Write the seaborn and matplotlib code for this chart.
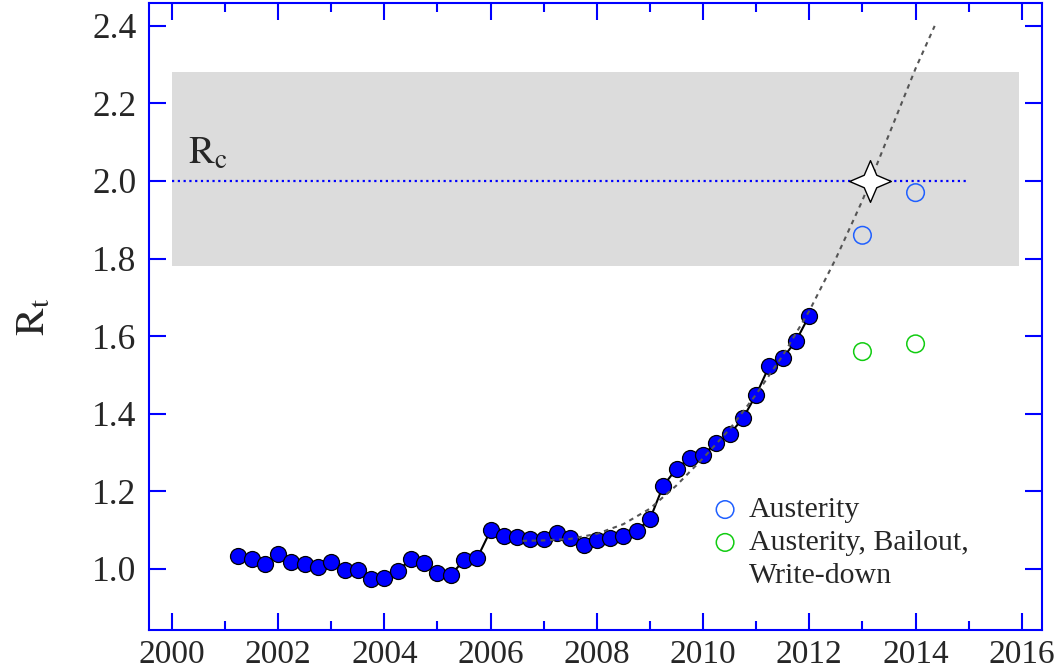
import matplotlib
matplotlib.use('Agg')

import numpy as np
import pandas as pd
import matplotlib.pyplot as plt
import seaborn as sns
from matplotlib.path import Path
from matplotlib.lines import Line2D
from matplotlib.ticker import MultipleLocator

# -----------------------------
# DATA
# -----------------------------
# quarterly R_t estimates, 2001.25 .. 2012.0
rt_values = [
    1.034, 1.025, 1.011, 1.037, 1.018, 1.011, 1.004, 1.017, 0.997, 0.997,
    0.973, 0.975, 0.993, 1.026, 1.016, 0.988, 0.984, 1.022, 1.028, 1.099,
    1.084, 1.083, 1.076, 1.076, 1.091, 1.078, 1.062, 1.074, 1.078, 1.084,
    1.098, 1.128, 1.214, 1.258, 1.285, 1.294, 1.324, 1.347, 1.388, 1.449,
    1.524, 1.543, 1.588, 1.653,
]
quarters = 2001.25 + 0.25 * np.arange(len(rt_values))

# fitted trend (dashed grey)
fit_years = [2006.6, 2007.0, 2007.5, 2008.0, 2008.5, 2009.0, 2009.5, 2010.0,
             2010.5, 2011.0, 2011.5, 2012.0, 2012.5, 2013.0, 2013.5, 2014.0, 2014.36]
fit_values = [1.072, 1.073, 1.077, 1.090, 1.115, 1.155, 1.215, 1.285,
              1.360, 1.450, 1.550, 1.665, 1.800, 1.950, 2.120, 2.290, 2.400]

# scenario projections
scen_years = [2013, 2014]
austerity = [1.86, 1.97]
austerity_bailout = [1.56, 1.58]

# critical value
r_crit = 2.0
r_crit_band = (1.78, 2.28)
t_crit = 2013.14

xticks = list(range(2000, 2017, 2))
yticks = [1.0, 1.2, 1.4, 1.6, 1.8, 2.0, 2.2, 2.4]

df = pd.DataFrame({"year": quarters, "Rt": rt_values})
fit_df = pd.DataFrame({"year": fit_years, "Rt": fit_values})

# -----------------------------
# STYLE
# -----------------------------
sns.set_style("ticks")
plt.rcParams['font.family'] = ['Liberation Serif', 'DejaVu Serif']
plt.rcParams['mathtext.fontset'] = 'stix'

blue = '#0000ff'
x0, x1 = 1999.57, 2016.38

fig = plt.figure(figsize=(10.6, 6.72), dpi=100)
ax = fig.add_axes([0.1406, 0.0625, 0.8424, 0.933])

# grey band around R_c
ax.axhspan(r_crit_band[0], r_crit_band[1], xmin=(2000 - x0) / (x1 - x0),
           xmax=(2015.95 - x0) / (x1 - x0), color='#dcdcdc', lw=0, zorder=0)
ax.hlines(r_crit, 2000, 2015, colors=blue, linestyles=(0, (1, 1.6)), lw=1.6, zorder=1)
ax.text(2000.3, r_crit + 0.045, r'$\mathrm{R_c}$', fontsize=28, ha='left', va='baseline')

# data
sns.lineplot(data=df, x="year", y="Rt", ax=ax, color='black', lw=1.5,
             marker='o', markersize=11.5, markerfacecolor=blue,
             markeredgecolor='black', markeredgewidth=0.9, zorder=3)

# fit
sns.lineplot(data=fit_df, x="year", y="Rt", ax=ax, color='#555555', lw=1.5,
             linestyle=(0, (2.2, 2.2)), zorder=4)

# 4-point star at crossing
star = Path([(0, 1), (0.3, 0.3), (1, 0), (0.3, -0.3), (0, -1),
             (-0.3, -0.3), (-1, 0), (-0.3, 0.3), (0, 1)], closed=True)
ax.plot([t_crit], [r_crit], marker=star, markersize=30, markerfacecolor='white',
        markeredgecolor='black', markeredgewidth=1.0, ls='none', zorder=5)

# scenarios
sns.scatterplot(x=scen_years, y=austerity, ax=ax, s=160, facecolor='none',
                edgecolor='#1f5fff', linewidth=1.1, label='Austerity', zorder=5)
sns.scatterplot(x=scen_years, y=austerity_bailout, ax=ax, s=160, facecolor='none',
                edgecolor='#11cc11', linewidth=1.1,
                label='Austerity, Bailout,', zorder=5)

# -----------------------------
# AXES
# -----------------------------
ax.set_xlim(x0, x1)
ax.set_ylim(0.842, 2.459)
ax.set_xticks(xticks)
ax.set_xticklabels([str(x) for x in xticks])
ax.xaxis.set_minor_locator(MultipleLocator(1))
ax.set_yticks(yticks)
ax.set_yticklabels([f"{y:.1f}" for y in yticks])
ax.set_xlabel("")
ax.set_ylabel(r'$\mathrm{R_t}$', fontsize=30, labelpad=28)

for s in ax.spines.values():
    s.set_visible(True)
    s.set_color(blue)
    s.set_linewidth(1.5)
ax.tick_params(which='both', direction='in', color=blue, width=1.5,
               top=True, right=True)
ax.tick_params(which='major', length=12)
ax.tick_params(which='minor', length=6.5)
ax.tick_params(axis='x', pad=7, labelsize=24)
ax.tick_params(axis='y', pad=9, labelsize=25.5)

handles, labels = ax.get_legend_handles_labels()
handles.append(Line2D([], [], ls='none', marker='none'))
labels.append('Write-down')
leg = ax.legend(handles, labels, loc='upper left', bbox_to_anchor=(0.615, 0.232),
                frameon=False, fontsize=21.5, handletextpad=0.3, labelspacing=0.2,
                borderaxespad=0, handlelength=1.0)

fig.savefig("out.png", dpi=100)
plt.close(fig)
